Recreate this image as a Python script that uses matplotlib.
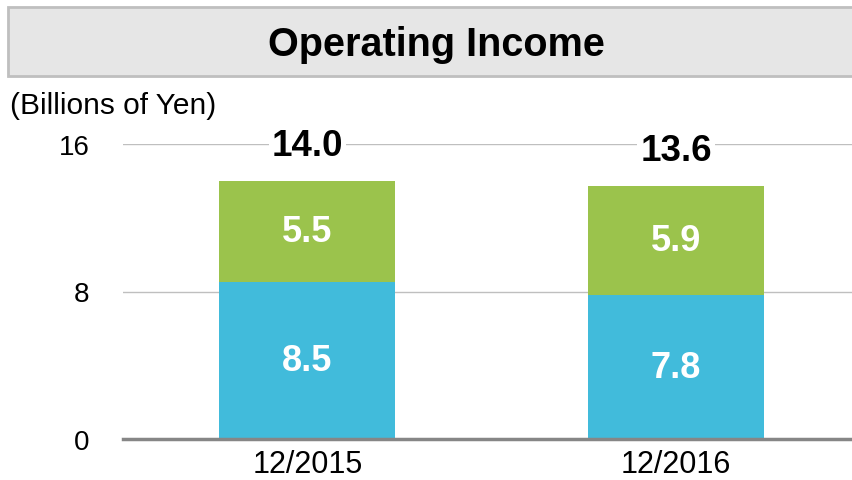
import matplotlib.pyplot as plt
from matplotlib.patches import Rectangle

plt.rcParams['font.family'] = ['Liberation Sans', 'DejaVu Sans']

# data
periods = ['12/2015', '12/2016']
lower_vals = [8.5, 7.8]
upper_vals = [5.5, 5.9]
totals = [14.0, 13.6]
y_ticks = [0, 8, 16]

blue = '#41bbdb'
green = '#9bc34c'

fig = plt.figure(figsize=(8.52, 4.81), dpi=100)

# title box
fig.patches.append(Rectangle((8 / 852, 1 - 77 / 481), 1.0, 69 / 481,
                             transform=fig.transFigure, facecolor='#e6e6e6',
                             edgecolor='#bfbfbf', linewidth=2, zorder=0))
fig.text(436 / 852, 1 - 45 / 481, 'Operating Income', ha='center', va='center',
         fontsize=28.5, fontweight='bold')
fig.text(10 / 852, 1 - 106 / 481, '(Billions of Yen)', ha='left', va='center',
         fontsize=21.5)

ax = fig.add_axes([123 / 852, 1 - 440 / 481, 1 - 123 / 852, 295 / 481])

x = list(range(len(periods)))
w = 0.477
ax.bar(x, lower_vals, width=w, color=blue, zorder=2)
ax.bar(x, upper_vals, width=w, bottom=lower_vals, color=green, zorder=2)

for i in x:
    ax.text(i, lower_vals[i] / 2, f'{lower_vals[i]:.1f}', ha='center', va='center',
            color='white', fontsize=26, fontweight='bold', zorder=3)
    ax.text(i, lower_vals[i] + upper_vals[i] / 2, f'{upper_vals[i]:.1f}', ha='center',
            va='center', color='white', fontsize=26, fontweight='bold', zorder=3)
    ax.annotate(f'{totals[i]:.1f}', (i, lower_vals[i] + upper_vals[i]),
                xytext=(0, 13), textcoords='offset points', ha='center', va='bottom',
                fontsize=26.5, fontweight='bold', zorder=4,
                bbox=dict(facecolor='white', edgecolor='none', pad=2))

ax.set_xlim(-0.5, 1.477)
ax.set_ylim(0, 16)
ax.set_yticks(y_ticks)
ax.set_xticks(x)
ax.set_xticklabels(periods)
ax.tick_params(axis='both', length=0)
ax.tick_params(axis='y', pad=24, labelsize=20)
ax.tick_params(axis='x', pad=7, labelsize=22)

ax.grid(axis='y', color='#bfbfbf', linewidth=1, zorder=1)
for s in ['top', 'right', 'left']:
    ax.spines[s].set_visible(False)
ax.spines['bottom'].set_color('#868686')
ax.spines['bottom'].set_linewidth(2.5)
ax.spines['bottom'].set_zorder(3)

fig.savefig('out.png', dpi=100)
